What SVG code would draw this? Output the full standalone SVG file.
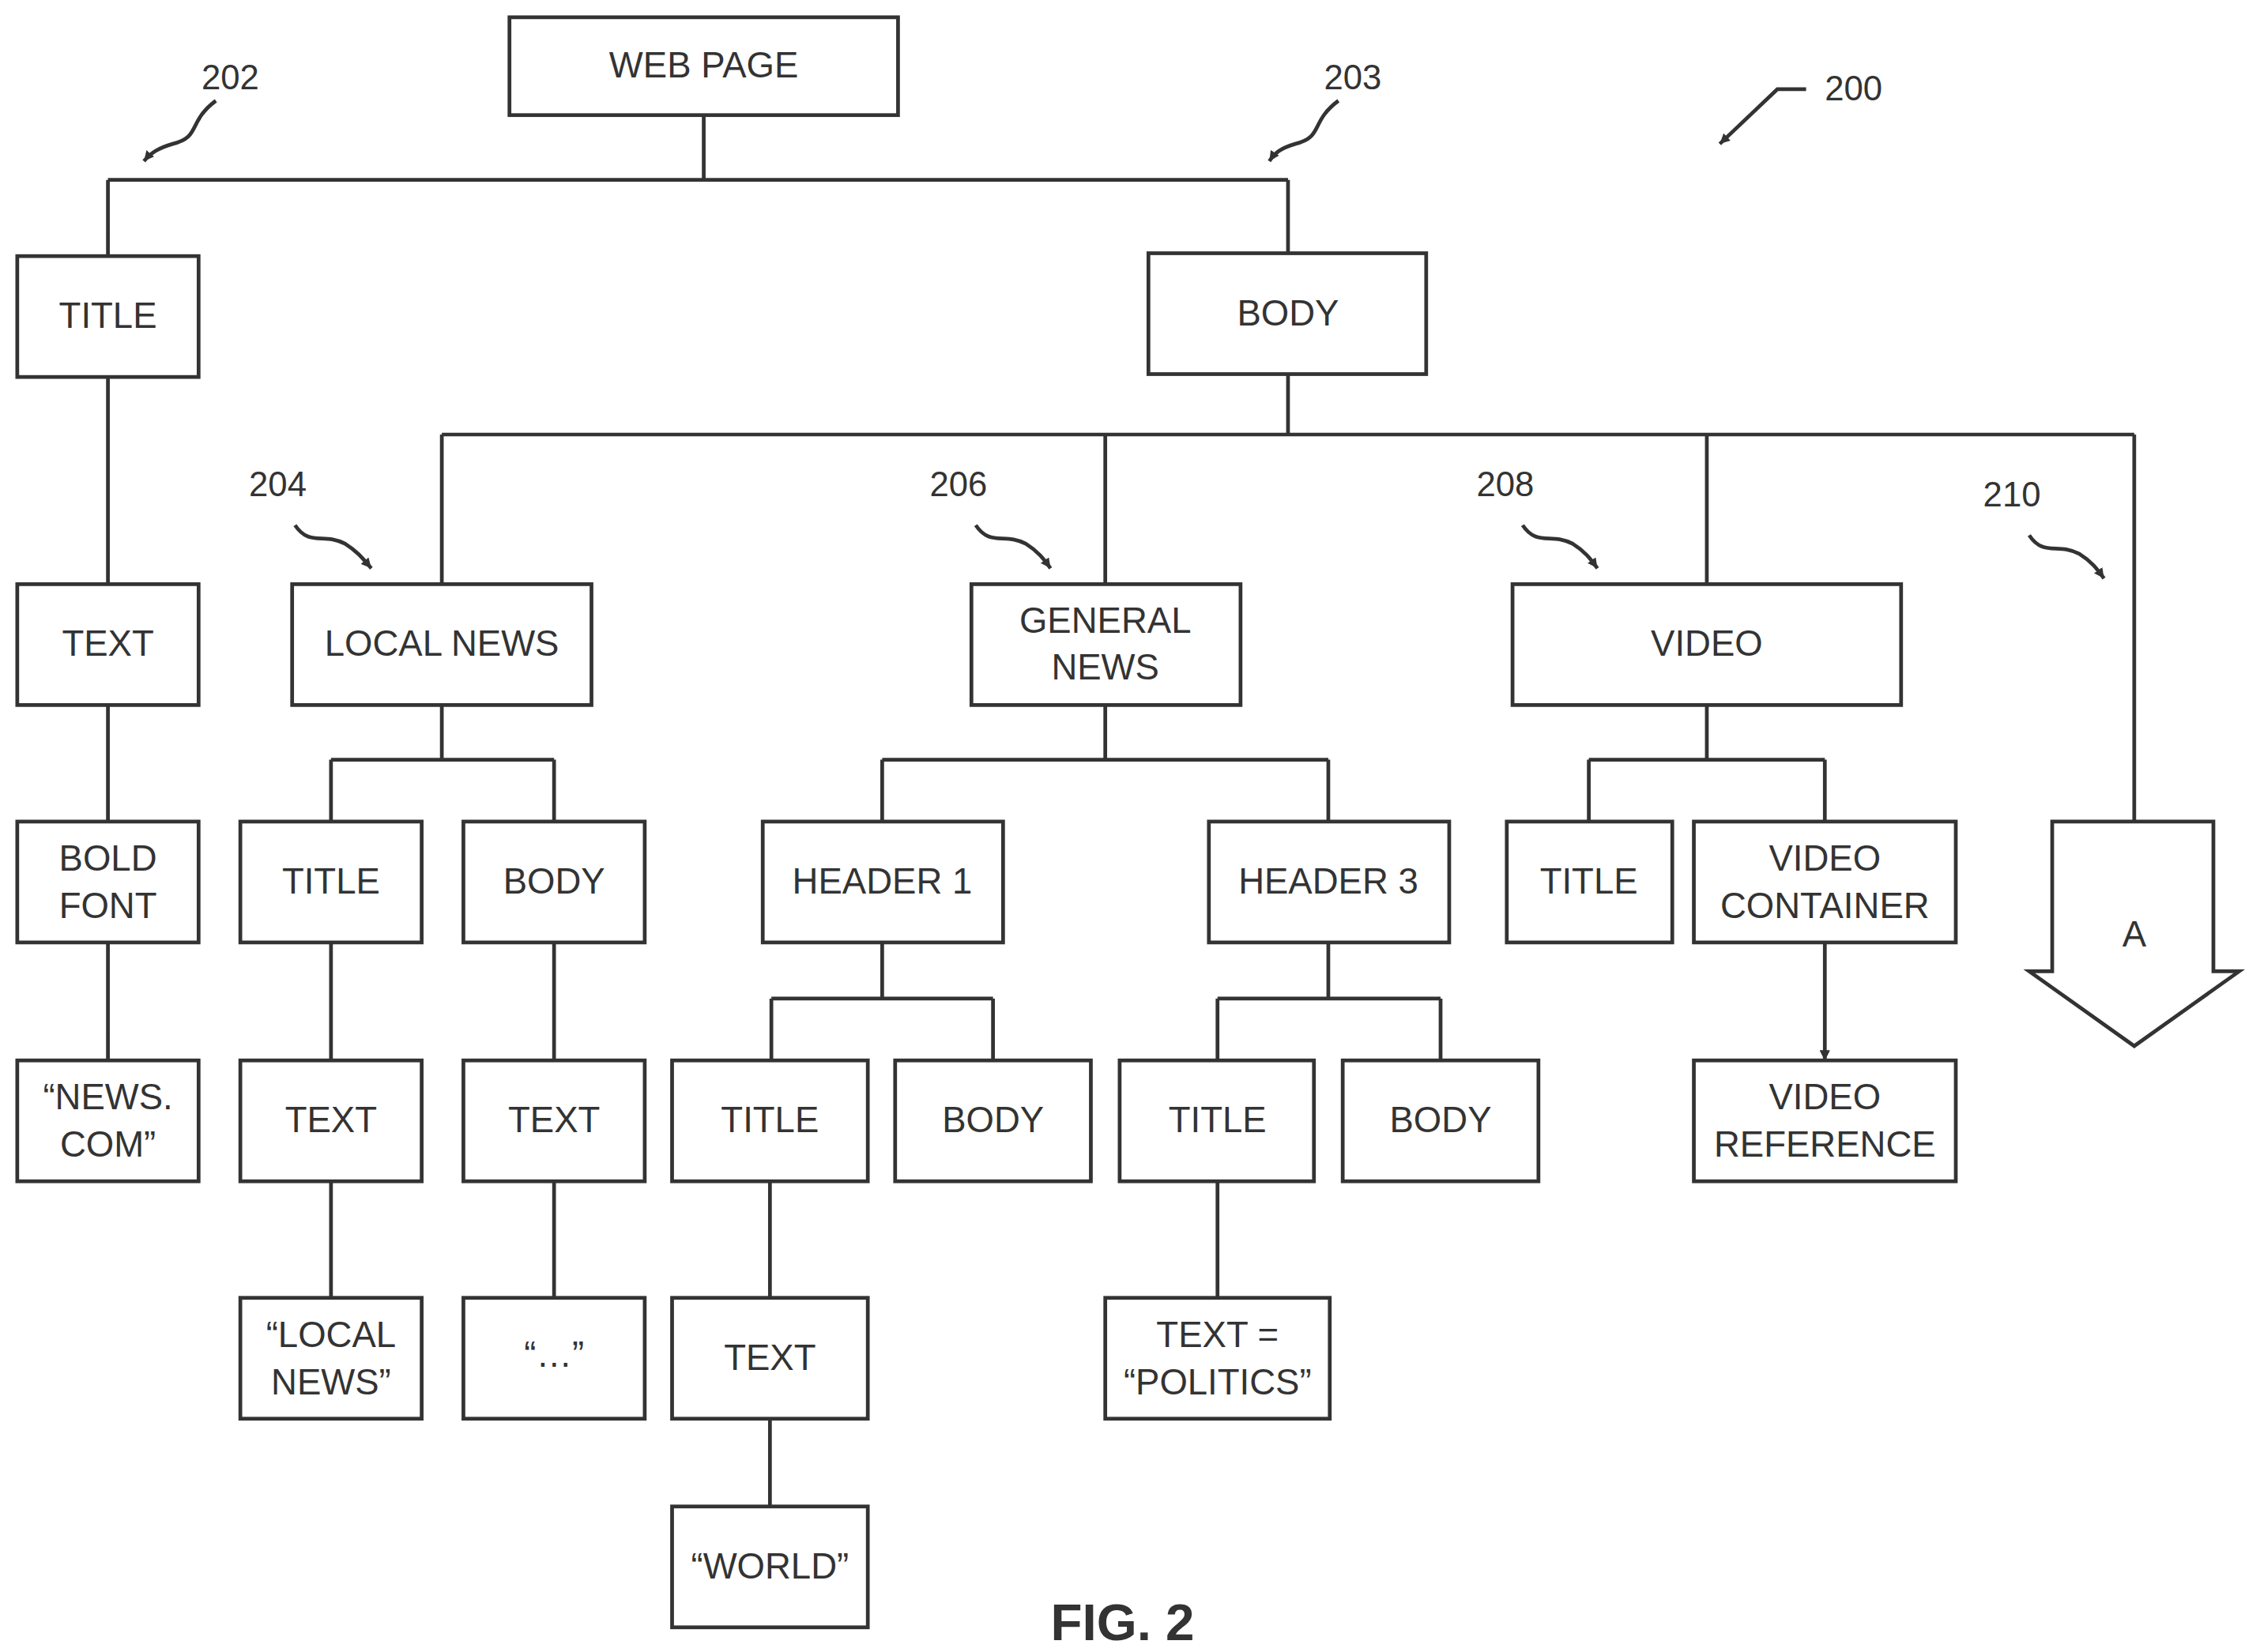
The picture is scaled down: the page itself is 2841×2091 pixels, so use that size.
<svg xmlns="http://www.w3.org/2000/svg" width="2841" height="2091" viewBox="0 0 2841 2091">
<style>
.b{fill:#fff;stroke:#333;stroke-width:2.6}
.t{font-family:"Liberation Sans",Arial,sans-serif;font-size:25px;fill:#333;text-anchor:middle}
.c{fill:none;stroke:#333;stroke-width:2.6}
.r{font-family:"Liberation Sans",Arial,sans-serif;font-size:24px;fill:#333;text-anchor:middle}
</style>
<defs>
<marker id="a" viewBox="0 0 10 10" refX="10" refY="5" markerWidth="7" markerHeight="7" markerUnits="userSpaceOnUse" orient="auto"><path d="M0,0L10,5L0,10z" fill="#333"/></marker>
</defs>
<rect width="2841" height="2091" fill="#fff"/>
<g transform="scale(1.8212)">
<g id="connectors" class="c">
<path d="M489,80V125M75,125H895M75,125V178M895,125V176" />
<path d="M75,262V406M75,490V571M75,655V737"/>
<path d="M895,260V302M307,302H1483M307,302V406M768,302V406M1186,302V406M1483,302V571"/>
<path d="M307,490V528M230,528H385M230,528V571M385,528V571"/>
<path d="M768,490V528M613,528H923M613,528V571M923,528V571"/>
<path d="M1186,490V528M1104,528H1268M1104,528V571M1268,528V571"/>
<path d="M613,655V694M536,694H690M536,694V737M690,694V737"/>
<path d="M923,655V694M846,694H1001M846,694V737M1001,694V737"/>
<path d="M230,655V737M230,821V902M385,655V737M385,821V902M535,821V902M535,986V1047M846,821V902M1268,655V737"/>
</g>
<g class="c" marker-end="url(#a)">
<path d="M75,125V178M895,125V176M75,262V406M75,490V571M75,655V737M307,302V406M768,302V406M1186,302V406M1483,302V571M230,528V571M385,528V571M613,528V571M923,528V571M1104,528V571M1268,528V571M536,694V737M690,694V737M846,694V737M1001,694V737M230,655V737M230,821V902M385,655V737M385,821V902M535,821V902M535,986V1047M846,821V902M1268,655V737" stroke="none"/>
</g>
<g id="arrows" class="c">
<path d="M75,160V178M895,158V176M75,388V406M75,553V571M75,719V737M307,388V406M768,388V406M1186,388V406M1483,553V571M230,553V571M385,553V571M613,553V571M923,553V571M1104,553V571M1268,553V571M536,719V737M690,719V737M846,719V737M1001,719V737M230,719V737M230,884V902M385,719V737M385,884V902M535,884V902M535,1029V1047M846,884V902M1268,719V737" marker-end="url(#a)" stroke-width="0.1"/>
</g>
<g id="refs" class="c">
<path d="M150,70C130,85 140,95 120,100C110,103 105,106 100,112" marker-end="url(#a)"/>
<path d="M930,70C910,85 920,95 900,100C890,103 886,106 882,112" marker-end="url(#a)"/>
<path d="M1255,62H1235L1195,100" marker-end="url(#a)"/>
<path d="M205,365C215,380 225,370 240,378C248,383 252,388 258,395" marker-end="url(#a)"/>
<path d="M678,365C688,380 698,370 713,378C721,383 725,388 730,395" marker-end="url(#a)"/>
<path d="M1058,365C1068,380 1078,370 1093,378C1101,383 1105,388 1110,395" marker-end="url(#a)"/>
<path d="M1410,372C1420,387 1430,377 1445,385C1453,390 1457,395 1462,402" marker-end="url(#a)"/>
</g>
<text class="r" x="160" y="62">202</text>
<text class="r" x="940" y="62">203</text>
<text class="r" x="1288" y="70">200</text>
<text class="r" x="193" y="345">204</text>
<text class="r" x="666" y="345">206</text>
<text class="r" x="1046" y="345">208</text>
<text class="r" x="1398" y="352">210</text>
<g id="webpage"><rect class="b" x="354" y="12" width="270" height="68"/><text class="t" x="489" y="54">WEB PAGE</text></g>
<g id="title"><rect class="b" x="12" y="178" width="126" height="84"/><text class="t" x="75" y="228">TITLE</text></g>
<g id="body"><rect class="b" x="798" y="176" width="193" height="84"/><text class="t" x="895" y="226">BODY</text></g>
<g id="text1"><rect class="b" x="12" y="406" width="126" height="84"/><text class="t" x="75" y="456">TEXT</text></g>
<g id="bold"><rect class="b" x="12" y="571" width="126" height="84"/><text class="t" x="75" y="605">BOLD</text><text class="t" x="75" y="638">FONT</text></g>
<g id="newscom"><rect class="b" x="12" y="737" width="126" height="84"/><text class="t" x="75" y="771">“NEWS.</text><text class="t" x="75" y="804">COM”</text></g>
<g id="localnews"><rect class="b" x="203" y="406" width="208" height="84"/><text class="t" x="307" y="456">LOCAL NEWS</text></g>
<g id="generalnews"><rect class="b" x="675" y="406" width="187" height="84"/><text class="t" x="768" y="440">GENERAL</text><text class="t" x="768" y="472">NEWS</text></g>
<g id="video"><rect class="b" x="1051" y="406" width="270" height="84"/><text class="t" x="1186" y="456">VIDEO</text></g>
<g id="A"><path class="b" d="M1426,571H1538V675H1556L1483,727L1410,675H1426Z"/><text class="t" x="1483" y="658">A</text></g>
<g id="lntitle"><rect class="b" x="167" y="571" width="126" height="84"/><text class="t" x="230" y="621">TITLE</text></g>
<g id="lnbody"><rect class="b" x="322" y="571" width="126" height="84"/><text class="t" x="385" y="621">BODY</text></g>
<g id="header1"><rect class="b" x="530" y="571" width="167" height="84"/><text class="t" x="613" y="621">HEADER 1</text></g>
<g id="header3"><rect class="b" x="840" y="571" width="167" height="84"/><text class="t" x="923" y="621">HEADER 3</text></g>
<g id="vtitle"><rect class="b" x="1047" y="571" width="115" height="84"/><text class="t" x="1104" y="621">TITLE</text></g>
<g id="vcontainer"><rect class="b" x="1177" y="571" width="182" height="84"/><text class="t" x="1268" y="605">VIDEO</text><text class="t" x="1268" y="638">CONTAINER</text></g>
<g id="lntext"><rect class="b" x="167" y="737" width="126" height="84"/><text class="t" x="230" y="787">TEXT</text></g>
<g id="lnbtext"><rect class="b" x="322" y="737" width="126" height="84"/><text class="t" x="385" y="787">TEXT</text></g>
<g id="h1title"><rect class="b" x="467" y="737" width="136" height="84"/><text class="t" x="535" y="787">TITLE</text></g>
<g id="h1body"><rect class="b" x="622" y="737" width="136" height="84"/><text class="t" x="690" y="787">BODY</text></g>
<g id="h3title"><rect class="b" x="778" y="737" width="135" height="84"/><text class="t" x="846" y="787">TITLE</text></g>
<g id="h3body"><rect class="b" x="933" y="737" width="136" height="84"/><text class="t" x="1001" y="787">BODY</text></g>
<g id="vref"><rect class="b" x="1177" y="737" width="182" height="84"/><text class="t" x="1268" y="771">VIDEO</text><text class="t" x="1268" y="804">REFERENCE</text></g>
<g id="qlocal"><rect class="b" x="167" y="902" width="126" height="84"/><text class="t" x="230" y="936">“LOCAL</text><text class="t" x="230" y="969">NEWS”</text></g>
<g id="qdots"><rect class="b" x="322" y="902" width="126" height="84"/><text class="t" x="385" y="950">“…”</text></g>
<g id="h1text"><rect class="b" x="467" y="902" width="136" height="84"/><text class="t" x="535" y="952">TEXT</text></g>
<g id="politics"><rect class="b" x="768" y="902" width="156" height="84"/><text class="t" x="846" y="936">TEXT =</text><text class="t" x="846" y="969">“POLITICS”</text></g>
<g id="world"><rect class="b" x="467" y="1047" width="136" height="84"/><text class="t" x="535" y="1097">“WORLD”</text></g>
<text x="780" y="1140" style="font-family:'Liberation Sans',Arial,sans-serif;font-size:36px;font-weight:bold;fill:#333;text-anchor:middle">FIG.  2</text>
</g>
</svg>
